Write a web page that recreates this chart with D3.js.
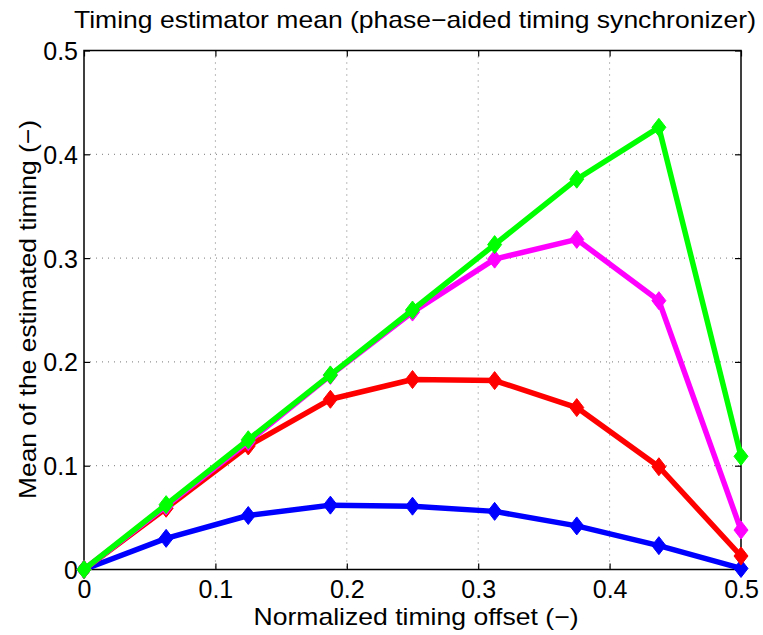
<!DOCTYPE html>
<html>
<head>
<meta charset="utf-8">
<script src="https://cdn.jsdelivr.net/npm/d3@7"></script>
<style>
  body { margin: 0; background: #fff; }
  text { font-family: "Liberation Sans", Arial, sans-serif; }
</style>
</head>
<body>
<div id="chart"></div>
<script>
// data
const offsets = [0, 0.0625, 0.125, 0.1875, 0.25, 0.3125, 0.375, 0.4375, 0.5]
const blueMean = [0, 0.030, 0.052, 0.062, 0.061, 0.056, 0.042, 0.023, 0.001]
const redMean = [0, 0.059, 0.119, 0.164, 0.183, 0.182, 0.156, 0.099, 0.013]
const magentaMean = [0, 0.061, 0.123, 0.187, 0.248, 0.299, 0.318, 0.259, 0.038]
const greenMean = [0, 0.0625, 0.125, 0.1875, 0.25, 0.313, 0.376, 0.426, 0.109]
const xTicks = [0, 0.1, 0.2, 0.3, 0.4, 0.5]
const yTicks = [0, 0.1, 0.2, 0.3, 0.4, 0.5]

const series = [
    { values: blueMean, color: "#0000ff" },
    { values: redMean, color: "#ff0000" },
    { values: magentaMean, color: "#ff00ff" },
    { values: greenMean, color: "#00ff00" }
]

const width = 763
const height = 635
const plotLeft = 84, plotRight = 741, plotTop = 50.5, plotBottom = 569.5

const svg = d3.select("#chart")
    .append("svg")
    .attr("width", width)
    .attr("height", height)

const x = d3.scaleLinear().domain([0, 0.5]).range([plotLeft, plotRight])
const y = d3.scaleLinear().domain([0, 0.5]).range([plotBottom, plotTop])

// grid
svg.append("g")
    .selectAll("line")
    .data(xTicks.slice(1, -1))
    .enter()
    .append("line")
    .attr("x1", d => x(d)).attr("x2", d => x(d))
    .attr("y1", plotTop).attr("y2", plotBottom)
    .style("stroke", "#777")
    .style("stroke-width", 1)
    .style("stroke-dasharray", "1,5")

svg.append("g")
    .selectAll("line")
    .data(yTicks.slice(1, -1))
    .enter()
    .append("line")
    .attr("x1", plotLeft).attr("x2", plotRight)
    .attr("y1", d => y(d)).attr("y2", d => y(d))
    .style("stroke", "#777")
    .style("stroke-width", 1)
    .style("stroke-dasharray", "1,5")

// axes with inward ticks on all sides
const tickLen = 6
const axisStyle = g => {
    g.select(".domain").remove()
    g.selectAll(".tick line").style("stroke", "#000").style("stroke-width", 1.2)
    g.selectAll("text").style("font-size", "25px").style("fill", "#000")
}

svg.append("g")
    .attr("transform", `translate(0,${plotBottom})`)
    .call(d3.axisBottom(x).tickValues(xTicks).tickSizeInner(-tickLen).tickPadding(10)
        .tickFormat(d => d === 0 ? "0" : d3.format(".1f")(d)))
    .call(axisStyle)
    .call(g => g.selectAll("text").attr("y", 28).attr("dy", 0))

svg.append("g")
    .attr("transform", `translate(0,${plotTop})`)
    .call(d3.axisTop(x).tickValues(xTicks).tickSizeInner(-tickLen).tickFormat(""))
    .call(axisStyle)

svg.append("g")
    .attr("transform", `translate(${plotLeft},0)`)
    .call(d3.axisLeft(y).tickValues(yTicks).tickSizeInner(-tickLen)
        .tickFormat(d => d === 0 ? "0" : d3.format(".1f")(d)))
    .call(axisStyle)
    .call(g => g.selectAll("text").attr("x", -6).attr("dy", "0.36em"))

svg.append("g")
    .attr("transform", `translate(${plotRight},0)`)
    .call(d3.axisRight(y).tickValues(yTicks).tickSizeInner(-tickLen).tickFormat(""))
    .call(axisStyle)

// frame
svg.append("rect")
    .attr("x", plotLeft).attr("y", plotTop)
    .attr("width", plotRight - plotLeft).attr("height", plotBottom - plotTop)
    .style("fill", "none")
    .style("stroke", "#000")
    .style("stroke-width", 1.5)

// lines and diamond markers
const line = d3.line()
    .x((d, i) => x(offsets[i]))
    .y(d => y(d))

const diamond = "M0,-9L7,0L0,9L-7,0Z"

series.forEach(s => {
    const g = svg.append("g")
    g.append("path")
        .attr("d", line(s.values))
        .style("fill", "none")
        .style("stroke", s.color)
        .style("stroke-width", 5.5)
        .style("stroke-linejoin", "round")
    g.selectAll("path.marker")
        .data(s.values)
        .enter()
        .append("path")
        .attr("class", "marker")
        .attr("d", diamond)
        .attr("transform", (d, i) => `translate(${x(offsets[i])},${y(d)})`)
        .style("fill", s.color)
        .style("stroke", s.color)
        .style("stroke-width", 1)
})

// titles
svg.append("text")
    .attr("x", 415).attr("y", 28)
    .attr("text-anchor", "middle")
    .attr("textLength", 682)
    .attr("lengthAdjust", "spacingAndGlyphs")
    .style("font-size", "24px")
    .text("Timing estimator mean (phase\u2212aided timing synchronizer)")

svg.append("text")
    .attr("x", 416).attr("y", 625)
    .attr("text-anchor", "middle")
    .attr("textLength", 325)
    .attr("lengthAdjust", "spacingAndGlyphs")
    .style("font-size", "24px")
    .text("Normalized timing offset (\u2212)")

svg.append("text")
    .attr("transform", "translate(36,309.5) rotate(-90)")
    .attr("text-anchor", "middle")
    .attr("textLength", 379)
    .attr("lengthAdjust", "spacingAndGlyphs")
    .style("font-size", "24px")
    .text("Mean of the estimated timing (\u2212)")
</script>
</body>
</html>
